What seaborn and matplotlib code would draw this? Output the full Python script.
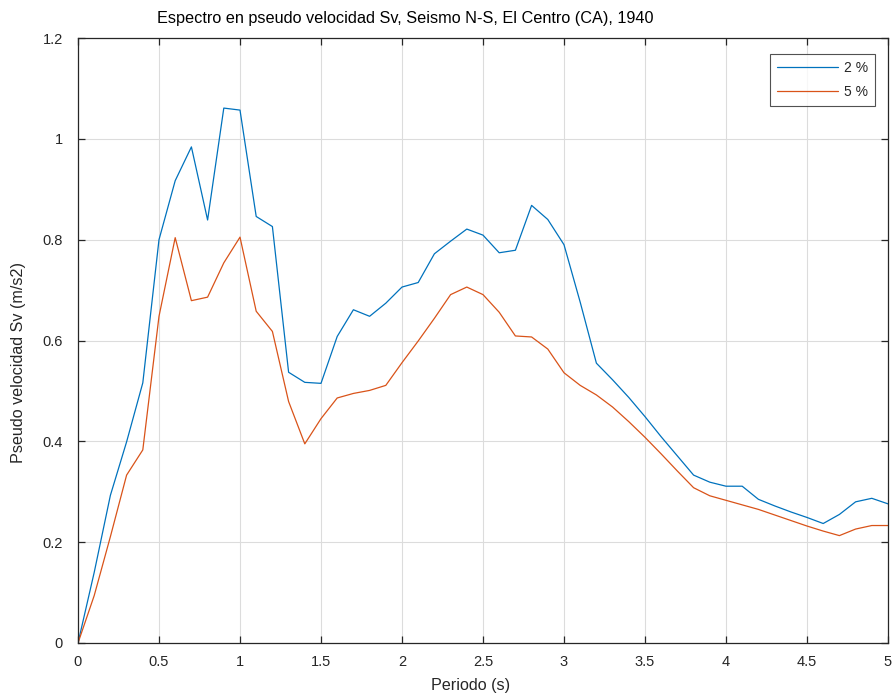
import numpy as np
import pandas as pd
import matplotlib
matplotlib.use("Agg")
import matplotlib.pyplot as plt
import seaborn as sns

periodo = [round(0.1 * i, 1) for i in range(51)]
sv_2 = [0.0, 0.14, 0.293, 0.399, 0.516, 0.800, 0.917, 0.984, 0.839, 1.061,
        1.057, 0.846, 0.826, 0.537, 0.517, 0.515, 0.608, 0.661, 0.648, 0.674,
        0.706, 0.715, 0.772, 0.797, 0.821, 0.809, 0.774, 0.779, 0.868, 0.840,
        0.790, 0.676, 0.555, 0.522, 0.487, 0.449, 0.409, 0.371, 0.333, 0.319,
        0.311, 0.311, 0.285, 0.272, 0.260, 0.249, 0.237, 0.255, 0.280, 0.287,
        0.276]
sv_5 = [0.0, 0.094, 0.211, 0.333, 0.383, 0.648, 0.804, 0.679, 0.686, 0.754,
        0.805, 0.658, 0.618, 0.479, 0.395, 0.445, 0.486, 0.495, 0.501, 0.511,
        0.556, 0.599, 0.644, 0.691, 0.706, 0.691, 0.656, 0.609, 0.607, 0.583,
        0.536, 0.511, 0.492, 0.468, 0.439, 0.408, 0.375, 0.341, 0.308, 0.292,
        0.283, 0.274, 0.265, 0.254, 0.243, 0.232, 0.222, 0.213, 0.226, 0.233,
        0.233]
series_labels = ["2 %", "5 %"]
x_ticks = [0, 0.5, 1, 1.5, 2, 2.5, 3, 3.5, 4, 4.5, 5]
y_ticks = [0, 0.2, 0.4, 0.6, 0.8, 1.0, 1.2]
x_ticklabels = ["0", "0.5", "1", "1.5", "2", "2.5", "3", "3.5", "4", "4.5", "5"]
y_ticklabels = ["0", "0.2", "0.4", "0.6", "0.8", "1", "1.2"]

df = pd.DataFrame({
    "Periodo": periodo * 2,
    "Sv": sv_2 + sv_5,
    "Amortiguamiento": [series_labels[0]] * len(periodo) + [series_labels[1]] * len(periodo),
})

sns.set_theme(style="white")
plt.rcParams['font.family'] = ['Liberation Sans', 'DejaVu Sans']

fig = plt.figure(figsize=(8.92, 6.95), dpi=100)
ax = fig.add_axes([78 / 892, 52 / 695, 810 / 892, 605 / 695])

axis_col = "#262626"
sns.lineplot(data=df, x="Periodo", y="Sv", hue="Amortiguamiento",
             palette=["#0072BD", "#D95319"], linewidth=0.9, ax=ax, legend=True)

ax.set_xlim(0, 5)
ax.set_ylim(0, 1.2)
ax.set_xticks(x_ticks)
ax.set_xticklabels(x_ticklabels)
ax.set_yticks(y_ticks)
ax.set_yticklabels(y_ticklabels)
ax.grid(True, color="#dcdcdc", linewidth=0.8)
ax.set_axisbelow(True)
for s in ax.spines.values():
    s.set_visible(True)
    s.set_color(axis_col)
    s.set_linewidth(0.9)
ax.tick_params(axis="both", direction="in", length=5, width=0.9, color=axis_col,
               labelsize=10.5, labelcolor=axis_col, top=True, right=True,
               bottom=True, left=True)
ax.tick_params(axis="x", pad=9)
ax.tick_params(axis="y", pad=11)

ax.set_xlabel("Periodo (s)", fontsize=11.6, color=axis_col, labelpad=5)
ax.xaxis.set_label_coords(0.485, -0.058)
ax.set_ylabel("Pseudo velocidad Sv (m/s2)", fontsize=11.6, color=axis_col)
ax.yaxis.set_label_coords(-0.064, 0.464)
ax.set_title("Espectro en pseudo velocidad Sv, Seismo N-S, El Centro (CA), 1940",
             fontsize=11.7, color="black", x=0.404, y=1.0, pad=11)

handles, labels = ax.get_legend_handles_labels()
leg = ax.legend(handles, labels, loc="upper right", bbox_to_anchor=(0.984, 0.974),
                frameon=True, fancybox=False, edgecolor=axis_col, fontsize=10,
                handlelength=4.4, handletextpad=0.4, borderpad=0.5, labelspacing=0.75,
                borderaxespad=0)
leg.get_frame().set_linewidth(0.8)

fig.savefig("out.png", dpi=100, facecolor="white")
